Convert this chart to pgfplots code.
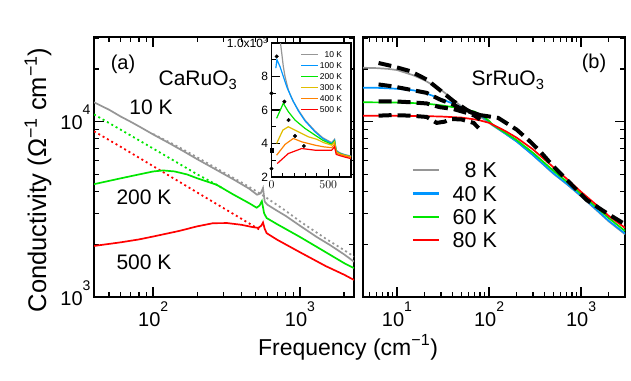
\documentclass[border=0pt]{standalone}
\usepackage{fontspec}
\setmainfont{Liberation Sans}
\usepackage{pgfplots}
\pgfplotsset{compat=1.18}

\definecolor{cgray}{RGB}{150,150,150}
\definecolor{cblue}{RGB}{0,150,255}
\definecolor{cgreen}{RGB}{0,230,0}
\definecolor{cred}{RGB}{255,0,0}
\definecolor{cyellow}{RGB}{225,190,0}
\definecolor{corange}{RGB}{255,130,0}

% tick label 10^n with a high superscript
\newcommand{\tp}[1]{10\raisebox{0.75em}{\fontsize{14}{14}\selectfont #1}}

\pgfplotsset{
  mypanel/.style={
    scale only axis, anchor=south west, height=260pt,
    ymin=1000, ymax=30400,
    axis line style={line width=2pt},
    tick align=inside,
    major tick length=10pt, minor tick length=5.5pt,
    major tick style={line width=1.5pt, black},
    minor tick style={line width=1.3pt, black},
    tick label style={font=\fontsize{20}{22}\selectfont},
    xticklabel style={yshift=-1pt},
    yticklabel style={yshift=4pt},
    ytick={1000,10000},
    minor ytick={2000,3000,4000,5000,6000,7000,8000,9000,20000,30000},
  },
}
\tikzset{myfit/.style={black, line width=4pt, dash pattern=on 13pt off 6pt}}

\begin{document}
\begin{tikzpicture}
\useasboundingbox (0pt,0pt) rectangle (631pt,380pt);

% (a) CaRuO3
\begin{loglogaxis}[mypanel, at={(94pt,83pt)}, width=260pt,
  xmin=39.5, xmax=2335,
  xtick={100,1000}, xticklabels={\tp{2},\tp{3}},
  minor xtick={50,60,70,80,90,200,300,400,500,600,700,800,900,2000},
  yticklabels={\tp{3},\tp{4}}]
\addplot[cgray, line width=1.8pt, dash pattern=on 2pt off 3pt] coordinates {
(100,8500) (150,7150) (200,6250) (300,5150) (400,4500) (500,4030) (600,3650)
(800,3100) (1000,2700) (1500,2150) (2000,1850) (2335,1700)};
\addplot[cgreen, line width=1.8pt, dash pattern=on 2pt off 3pt] coordinates {
(39.5,11000) (60,9000) (80,7830) (100,7020) (150,5760) (200,5000) (270,4370) (300,4150)};
\addplot[cred, line width=1.8pt, dash pattern=on 2pt off 3pt] coordinates {
(39.5,8810) (60,7190) (80,6230) (100,5570) (150,4550) (200,3940) (300,3220) (400,2790) (533,2416)};
\addplot[cgray, line width=1.7pt] coordinates {
(39.5,12900) (50,11700) (60,10700) (70,10000) (80,9400) (100,8450) (130,7500)
(160,6800) (200,6100) (250,5500) (300,5050) (350,4700) (400,4400) (450,4150)
(510,3830) (540,3900) (560,4180) (575,3500) (600,3360) (700,3100) (800,2900)
(1000,2550) (1300,2200) (1600,1980) (2000,1750) (2335,1590)};
\addplot[cgreen, line width=1.7pt] coordinates {
(39.5,4400) (60,4750) (80,5000) (100,5200) (117,5270) (140,5200) (170,5000)
(200,4750) (270,4370) (350,3850) (450,3430) (507,3230) (530,3320) (550,3520)
(570,3000) (593,2820) (700,2600) (1000,2200) (1500,1800) (2000,1560) (2335,1460)};
\addplot[cred, line width=1.7pt] coordinates {
(39.5,1955) (60,2050) (80,2130) (100,2213) (150,2380) (200,2530) (256,2636)
(320,2640) (400,2580) (480,2500) (520,2480) (545,2550) (560,2660) (575,2450)
(593,2312) (700,2120) (1000,1800) (1500,1500) (2000,1340) (2335,1251)};
\end{loglogaxis}

% inset
\begin{axis}[scale only axis, anchor=south west, at={(271.5pt,203pt)},
  width=79.5pt, height=134pt,
  xmin=0, xmax=700, ymin=2, ymax=10,
  axis background/.style={fill=white},
  axis line style={line width=1.1pt},
  tick align=inside, tick pos=left,
  major tick length=8pt, minor tick length=4pt,
  major tick style={line width=1.2pt, black},
  minor tick style={line width=1pt, black},
  xtick={0,500}, minor xtick={100,200,300,400,600,700},
  ytick={2,4,6,8,10}, yticklabels={2,4,6,8,1.0x10\textsuperscript{3}},
  minor ytick={3,5,7,9},
  tick label style={font=\fontsize{12}{13}\selectfont},
  legend style={draw=none, fill=none, at={(0.94,0.965)}, anchor=north east,
    font=\fontsize{8.5}{8.5}\selectfont, row sep=2.5pt,
    nodes={inner sep=1pt, text height=6.5pt, text depth=0pt}},
  legend cell align=right,
  legend image code/.code={\draw[#1, line width=1.2pt] (0pt,0pt) -- (17pt,0pt);}]
\addplot[cgray, line width=1.2pt] coordinates {
(70,10.5) (90,9.4) (104,8.6) (119,8.0) (148,7.2) (192,6.5) (236,6.0) (295,5.4)
(383,4.75) (450,4.35) (530,4.05) (555,4.25) (570,3.6) (600,3.45) (640,3.35) (700,3.25)};
\addlegendentry{10 K}
\addplot[cblue, line width=1.2pt] coordinates {
(38,8.5) (48,9.0) (75,8.59) (104,8.0) (134,7.39) (178,6.7) (236,5.95) (295,5.35)
(383,4.7) (450,4.3) (530,4.0) (555,4.2) (570,3.55) (600,3.42) (640,3.32) (700,3.22)};
\addlegendentry{100 K}
\addplot[cgreen, line width=1.2pt] coordinates {
(45,5.5) (104,6.4) (148,5.9) (207,5.4) (295,4.9) (383,4.5) (450,4.2) (530,3.95)
(555,4.15) (570,3.5) (600,3.4) (640,3.3) (700,3.2)};
\addlegendentry{200 K}
\addplot[cyellow, line width=1.2pt] coordinates {
(45,4.0) (100,4.8) (148,5.0) (236,4.7) (324,4.4) (400,4.25) (460,4.05) (530,3.9)
(555,4.1) (570,3.5) (600,3.38) (640,3.3) (700,3.2)};
\addlegendentry{300 K}
\addplot[corange, line width=1.2pt] coordinates {
(45,3.3) (120,3.95) (192,4.3) (266,4.1) (383,3.9) (460,3.8) (530,3.75) (555,3.95)
(570,3.45) (600,3.35) (640,3.27) (700,3.18)};
\addlegendentry{400 K}
\addplot[cred, line width=1.2pt] coordinates {
(50,2.8) (148,3.4) (266,3.7) (383,3.6) (460,3.6) (530,3.6) (555,3.8) (570,3.35)
(600,3.28) (640,3.2) (700,3.1)};
\addlegendentry{500 K}
\addplot[only marks, mark=*, mark size=1.8pt, black, forget plot] coordinates {
(46,9.2) (0,7.0) (113,6.5) (150,5.4) (207,4.45) (285,3.85) (0,2.5)};
\addplot[only marks, mark=square*, mark size=1.8pt, black, forget plot] coordinates {
(0,3.6)};
\end{axis}

% (b) SrRuO3
\begin{loglogaxis}[mypanel, at={(363pt,83pt)}, width=262pt,
  xmin=4.27, xmax=3006,
  xtick={10,100,1000},
  xticklabels={\tp{1},\tp{2},\tp{3}},
  minor xtick={5,6,7,8,9,20,30,40,50,60,70,80,90,200,300,400,500,600,700,800,900,2000,3000},
  yticklabels={,},
  legend style={draw=none, fill=none, at={(0.185,0.521)}, anchor=north west,
    font=\fontsize{21.5}{21.5}\selectfont, row sep=6.3pt, inner sep=0pt,
    nodes={inner sep=1pt, text height=15pt, text depth=0pt},
    /tikz/every odd column/.append style={column sep=11pt}},
  legend cell align=right,
  legend image code/.code={\draw[#1, line width=2.4pt] (0pt,0pt) -- (26.6pt,0pt);}]
\addplot[cgray, line width=1.7pt] coordinates {
(4.27,20300) (6,20200) (8,20000) (10,19700) (15,18400) (20,17200) (30,15200)
(40,13500) (50,12200) (60,11500) (80,10700) (100,9850) (110,9500) (150,8550)
(200,7700) (300,6450) (500,5050) (700,4400) (1000,3750) (1500,3100) (2000,2700) (3006,2280)};
\addlegendentry{8 K}
\addplot[cblue, line width=1.7pt] coordinates {
(4.27,15600) (6,15600) (10,15400) (15,15100) (20,14600) (30,13500) (40,12700)
(60,11600) (80,10900) (100,10000) (110,9550) (150,8550) (200,7700) (300,6450)
(500,5080) (700,4420) (1000,3780) (1500,3120) (2000,2720) (3006,2300)};
\addlegendentry{40 K}
\addplot[cgreen, line width=1.7pt] coordinates {
(4.27,12900) (10,12850) (20,12700) (30,12400) (50,11900) (70,11400) (85,10800)
(100,10100) (110,9580) (150,8650) (200,7850) (300,6650) (500,5250) (700,4550)
(1000,3880) (1500,3220) (2000,2820) (3006,2380)};
\addlegendentry{60 K}
\addplot[cred, line width=1.7pt] coordinates {
(4.27,10800) (10,10800) (20,10750) (30,10700) (50,10550) (70,10300) (80,10160)
(100,9850) (110,9620) (150,8850) (200,8100) (300,6950) (500,5500) (700,4720)
(1000,3980) (1500,3320) (2000,2900) (3006,2480)};
\addlegendentry{80 K}
\addplot[myfit, forget plot] coordinates {
(6.3,21600) (9,20700) (14,19400) (21,17400) (29,15200) (41,13100) (57,11700)
(70,11000) (90,10800) (126,10500) (200,9000) (280,7700) (360,6760) (500,5560)
(700,4660) (1150,3580) (1900,3010) (3006,2600)};
\addplot[myfit, forget plot] coordinates {
(6.3,16300) (9,15900) (14,15200) (21,14600) (29,13400) (41,12500) (52,11700)
(65,11300) (80,10900)};
\addplot[myfit, forget plot] coordinates {
(6.3,13070) (9,13070) (14,12900) (21,12700) (29,12100) (41,11800) (57,11230)
(70,10800) (80,10300)};
\addplot[myfit, forget plot] coordinates {
(6.3,10820) (9,10900) (14,10820) (21,10640) (27,9840) (33,10000) (38,10350)
(50,10300) (68,9840) (77,9200)};
\end{loglogaxis}

% labels
\node[font=\fontsize{20}{22}\selectfont] at (123pt,316pt) {(a)};
\node[font=\fontsize{21}{22}\selectfont, anchor=base] at (198pt,294pt) {CaRuO\textsubscript{3}};
\node[font=\fontsize{21}{22}\selectfont, anchor=base] at (151pt,265pt) {10 K};
\node[font=\fontsize{21}{22}\selectfont, anchor=base] at (144pt,175pt) {200 K};
\node[font=\fontsize{21}{22}\selectfont, anchor=base] at (144pt,110pt) {500 K};
\node[font=\fontsize{20}{22}\selectfont] at (594pt,317pt) {(b)};
\node[font=\fontsize{21}{22}\selectfont, anchor=base] at (508pt,294pt) {SrRuO\textsubscript{3}};
\node[font=\fontsize{23}{25}\selectfont, anchor=base] at (348pt,25pt) {Frequency (cm\textsuperscript{−1})};
\node[font=\fontsize{25.5}{27}\selectfont, anchor=base, rotate=90] at (46pt,200pt) {Conductivity (Ω\textsuperscript{−1} cm\textsuperscript{−1})};
\end{tikzpicture}
\end{document}
